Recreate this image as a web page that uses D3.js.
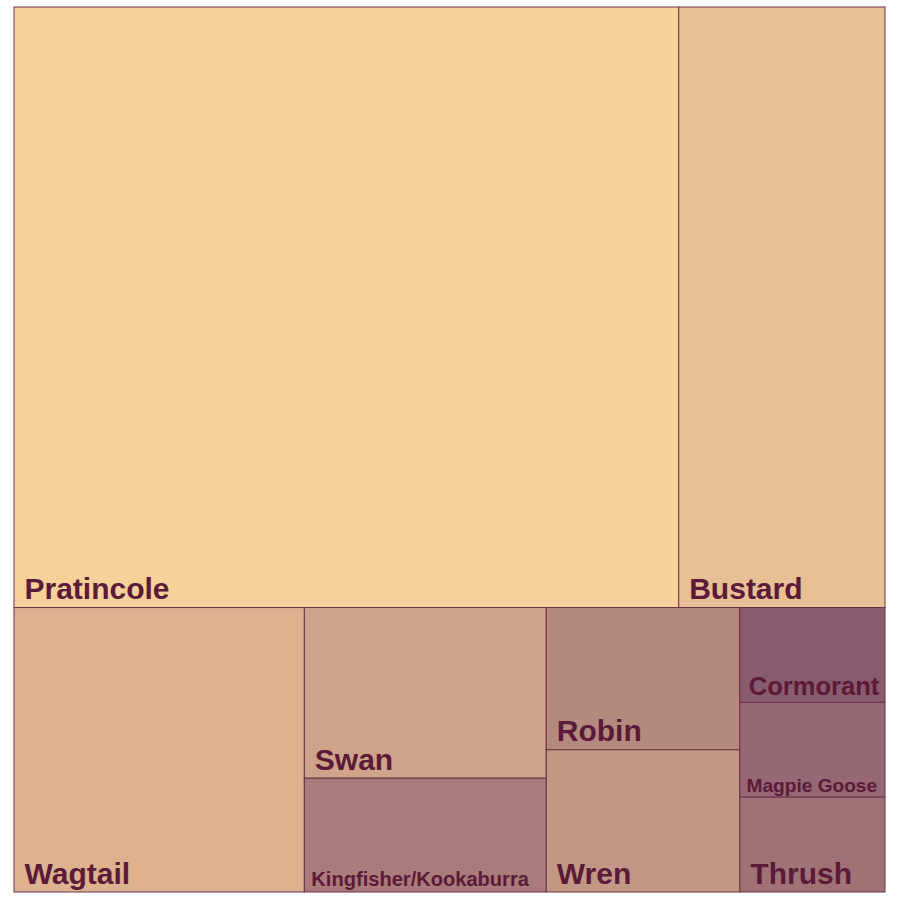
<!DOCTYPE html>
<html>
<head>
<meta charset="utf-8">
<script src="https://cdn.jsdelivr.net/npm/d3@7"></script>
<style>
html,body{margin:0;padding:0;background:#fff;}
svg{display:block;}
</style>
</head>
<body>
<svg id="chart" width="900" height="900"></svg>
<script>
const categories = ["Pratincole","Bustard","Wagtail","Swan","Kingfisher/Kookaburra","Robin","Wren","Cormorant","Magpie Goose","Thrush"];
const values = [29, 9, 6, 3, 2, 2, 2, 1, 1, 1];
const colors = ["#f7d09a","#e9bf95","#deb18f","#cfa38a","#a97b7a","#b48a7e","#c29786","#895b6e","#966873","#a07275"];

const svg = d3.select("#chart");
const margin = {left:14, top:7};
const W = 871, H = 885;

const root = d3.hierarchy({children: categories.map((c,i)=>({name:c, value:values[i], color:colors[i]}))})
  .sum(d => d.value || 0)
  .sort((a,b) => b.value - a.value);

d3.treemap().tile(d3.treemapSquarify.ratio(1.27)).size([W,H]).round(false)(root);

const g = svg.append("g").attr("transform", `translate(${margin.left},${margin.top})`);

const cell = g.selectAll("g.cell").data(root.leaves()).join("g").attr("class","cell");

cell.append("rect")
  .attr("x", d => d.x0).attr("y", d => d.y0)
  .attr("width", d => d.x1 - d.x0).attr("height", d => d.y1 - d.y0)
  .attr("fill", d => d.data.color)
  .attr("stroke", "#6e3049").attr("stroke-width", 1);

cell.append("text")
  .text(d => d.data.name)
  .attr("font-family", "'Liberation Sans', Arial, Helvetica, sans-serif")
  .attr("font-weight", "bold")
  .attr("fill", "#5a1a38")
  .each(function(d){
    const t = d3.select(this);
    let fs = 30;
    t.attr("font-size", fs);
    const len = this.getComputedTextLength();
    const w = d.x1 - d.x0;
    const avail = w * 0.9;
    if (len > avail) fs = fs * avail / len;
    t.attr("font-size", fs)
     .attr("x", d.x0 + 0.35*fs)
     .attr("y", d.y1 - 0.28*fs);
  });
</script>
</body>
</html>
